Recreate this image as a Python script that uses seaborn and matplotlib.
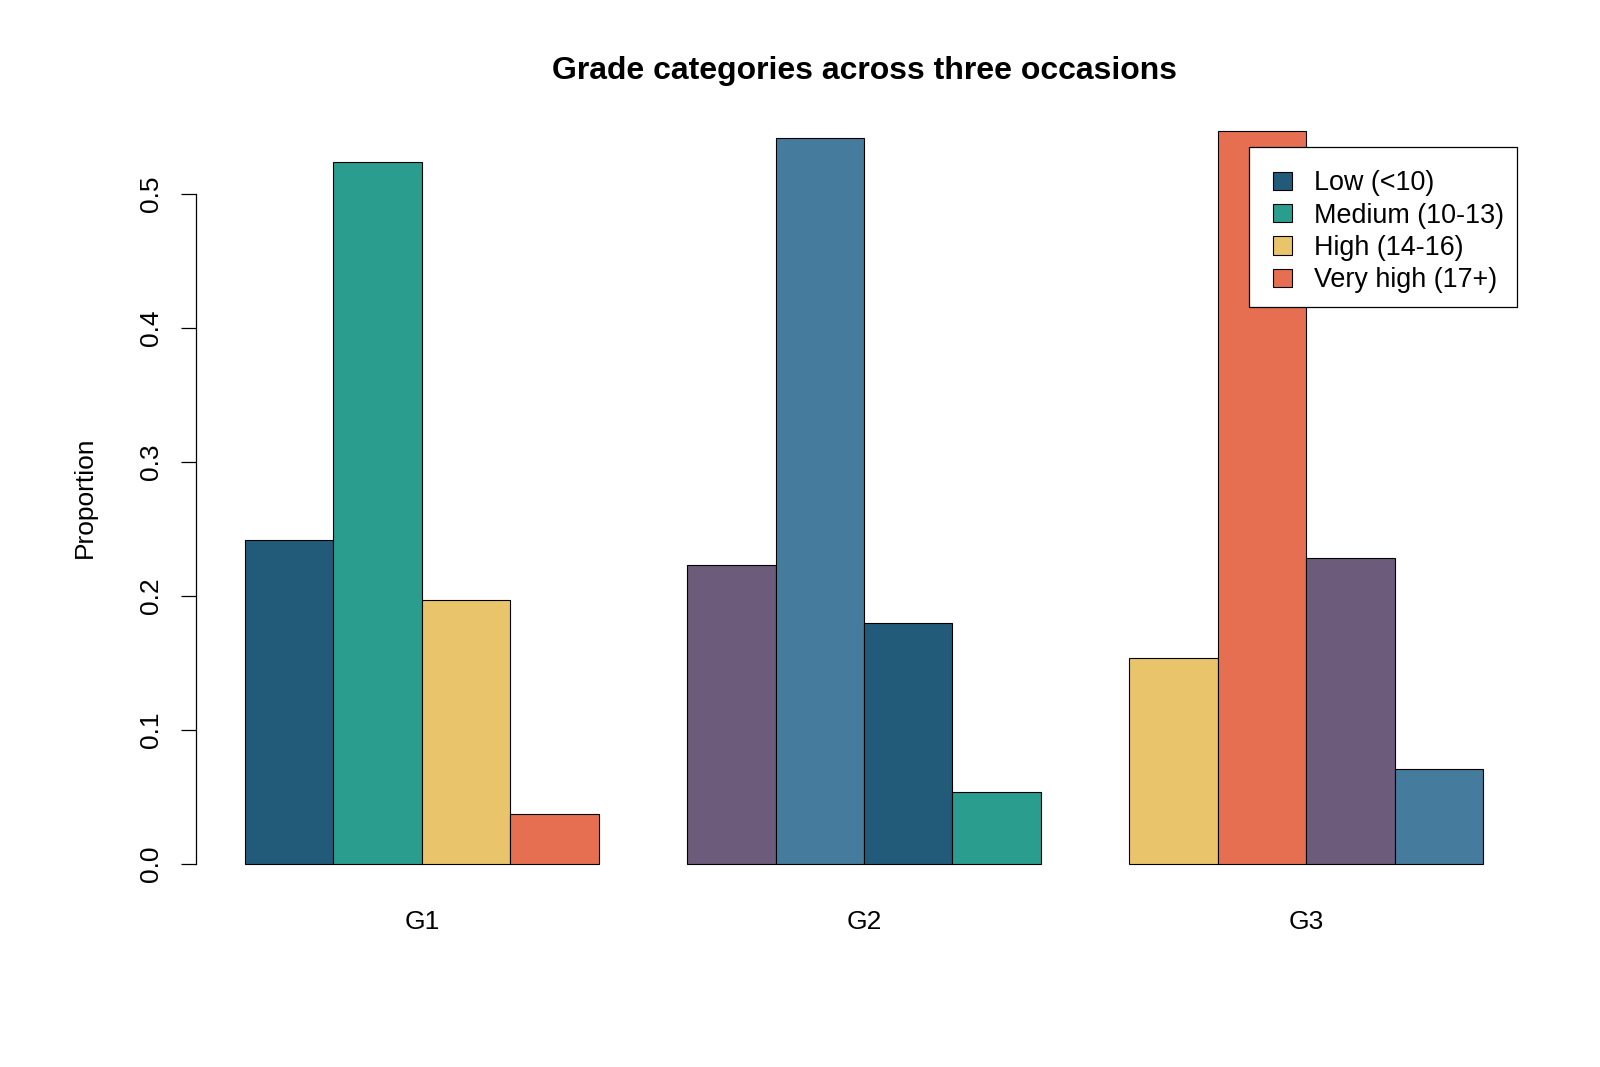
import pandas as pd
import matplotlib.pyplot as plt
import seaborn as sns
from matplotlib.patches import Patch, Rectangle

occasions = ["G1", "G2", "G3"]
categories = ["Low (<10)", "Medium (10-13)", "High (14-16)", "Very high (17+)"]
g1_props = [0.242, 0.524, 0.197, 0.037]
g2_props = [0.223, 0.542, 0.180, 0.054]
g3_props = [0.154, 0.547, 0.228, 0.071]

# colours are recycled across all 12 bars (6 colours, 4 bars per group)
bar_colors = ["#225A7A", "#2A9D8F", "#E9C46A", "#E76F51", "#6C5B7B", "#457B9D"]


def build_frame():
    rows = []
    for occ, props in zip(occasions, [g1_props, g2_props, g3_props]):
        for cat, p in zip(categories, props):
            rows.append({"occasion": occ, "category": cat, "proportion": p})
    return pd.DataFrame(rows)


def main():
    df = build_frame()
    sns.set_style("white")
    plt.rcParams["font.family"] = ["Liberation Sans", "DejaVu Sans"]
    plt.rcParams["text.color"] = "black"
    plt.rcParams["axes.labelcolor"] = "black"
    plt.rcParams["xtick.color"] = "black"
    plt.rcParams["ytick.color"] = "black"

    fig = plt.figure(figsize=(16, 10.67), dpi=100)
    ax = fig.add_axes([0.1222, 0.1628, 0.8356, 0.7419])

    sns.barplot(data=df, x="occasion", y="proportion", hue="category",
                order=occasions, hue_order=categories,
                palette=bar_colors[:4], saturation=1, width=0.8,
                edgecolor="black", linewidth=0.8, legend=False, ax=ax)

    # recolour so the palette keeps cycling from bar to bar, like R does
    n_cat = len(categories)
    for h, container in enumerate(ax.containers):
        for g, bar in enumerate(container):
            bar.set_facecolor(bar_colors[(g * n_cat + h) % len(bar_colors)])

    ax.set_xlim(-0.512, 2.512)
    ax.set_ylim(-0.0219, 0.5689)
    for side in ["top", "right", "bottom"]:
        ax.spines[side].set_visible(False)
    ax.spines["left"].set_bounds(0, 0.5)
    ax.spines["left"].set_color("black")
    ax.spines["left"].set_linewidth(0.9)
    ax.set_yticks([0.0, 0.1, 0.2, 0.3, 0.4, 0.5])
    ax.set_yticklabels(["0.0", "0.1", "0.2", "0.3", "0.4", "0.5"],
                       rotation=90, va="center")
    ax.tick_params(axis="y", length=11, width=0.9,
                   labelsize=19, pad=12.5, left=True)
    ax.tick_params(axis="x", length=0, labelsize=19, pad=12)
    ax.set_xlabel("")
    ax.set_ylabel("Proportion", fontsize=19, labelpad=30)
    ax.set_title("Grade categories across three occasions",
                 fontsize=23, fontweight="bold", pad=16)

    # legend box drawn separately so its margins can match the R legend
    box = Rectangle((0.7806, 0.7123), 0.1675, 0.15, transform=fig.transFigure,
                    facecolor="white", edgecolor="black", linewidth=0.9,
                    zorder=5)
    fig.add_artist(box)

    handles = [Patch(facecolor=c, edgecolor="black", linewidth=0.8)
               for c in bar_colors[:4]]
    leg = fig.legend(handles, categories, loc="upper left",
                     bbox_to_anchor=(0.7959, 0.8404), fontsize=19.4,
                     frameon=False, handlelength=0.68, handleheight=0.68,
                     handletextpad=0.81, labelspacing=0.235,
                     borderpad=0, borderaxespad=0)
    leg.set_zorder(6)

    fig.savefig("out.png", dpi=100, facecolor="white")


if __name__ == "__main__":
    main()
